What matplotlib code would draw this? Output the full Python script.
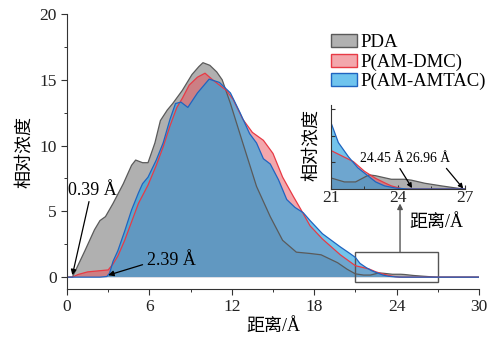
import matplotlib
matplotlib.use('Agg')
import matplotlib.pyplot as plt
from matplotlib.patches import Rectangle, Patch
from matplotlib.ticker import MultipleLocator

plt.rcParams['font.family'] = ['Liberation Serif', 'Noto Sans CJK SC']
plt.rcParams['axes.unicode_minus'] = False

# ---------------- data ----------------
series_names = ['PDA', 'P(AM-DMC)', 'P(AM-AMTAC)']

pda_x = [0, 0.39, 0.8, 1.3, 2.0, 2.4, 2.8, 3.35, 4.1, 4.7, 5.0, 5.5, 5.9, 6.4, 6.8, 7.3, 7.7,
         8.4, 9.1, 9.6, 9.9, 10.4, 10.9, 11.3, 11.9, 12.8, 13.8, 14.8, 15.7, 16.7, 17.7, 18.5,
         19.7, 20.4, 21.0, 21.6, 22.1, 22.7, 23.0, 23.7, 24.3, 24.6, 25.2, 25.95, 26.7, 26.96, 30]
pda_y = [0, 0, 0.9, 2.0, 3.6, 4.3, 4.6, 5.6, 7.1, 8.5, 8.9, 8.7, 8.7, 10.2, 11.9, 12.7, 13.2,
         14.2, 15.4, 16.0, 16.3, 16.1, 15.6, 15.0, 13.2, 10.2, 6.9, 4.6, 2.8, 1.9, 1.8, 1.7,
         1.1, 0.6, 0.25, 0.16, 0.16, 0.32, 0.3, 0.22, 0.22, 0.2, 0.13, 0.07, 0.015, 0, 0]

dmc_x = [0, 0.39, 0.8, 1.5, 2.5, 3.0, 3.35, 3.7, 4.2, 4.7, 5.2, 5.9, 6.5, 7.0, 7.5, 8.0, 8.4,
         8.9, 9.5, 10.05, 10.6, 11.1, 11.6, 12.1, 12.8, 13.5, 14.3, 15.0, 15.7, 16.5, 17.0, 17.7,
         18.6, 19.9, 21.0, 21.6, 22.0, 22.5, 23.0, 23.4, 23.7, 24.0, 24.2, 30]
dmc_y = [0, 0, 0.2, 0.4, 0.5, 0.55, 1.0, 1.6, 2.8, 4.2, 5.6, 7.0, 8.5, 9.9, 11.5, 12.9, 13.6,
         14.6, 15.2, 15.5, 15.0, 14.6, 14.2, 13.5, 12.0, 11.0, 10.4, 9.4, 7.6, 6.1, 5.2, 3.9,
         2.9, 1.7, 0.87, 0.72, 0.62, 0.4, 0.24, 0.14, 0.07, 0.03, 0, 0]

amtac_x = [0, 2.39, 2.9, 3.1, 3.35, 3.7, 4.2, 4.7, 5.2, 5.5, 5.9, 6.5, 7.0, 7.5, 7.9, 8.3,
           8.8, 9.5, 10.35, 11.1, 11.9, 12.6, 13.3, 13.8, 14.3, 14.8, 15.4, 16.0, 16.6, 17.2,
           17.7, 18.6, 19.9, 20.6, 21.0, 21.33, 21.78, 22.2, 22.6, 23.0, 23.4, 23.9, 24.45, 30]
amtac_y = [0, 0, 0.05, 0.3, 1.2, 2.0, 3.5, 5.1, 6.4, 7.1, 7.6, 8.9, 10.2, 12.0, 13.2, 13.3,
           12.9, 14.0, 15.05, 14.8, 14.0, 12.5, 10.9, 10.2, 9.0, 8.6, 7.4, 5.9, 5.3, 4.9,
           4.3, 3.3, 2.3, 1.8, 1.5, 1.05, 0.73, 0.48, 0.32, 0.16, 0.07, 0.02, 0, 0]

xs = [pda_x, dmc_x, amtac_x]
ys = [pda_y, dmc_y, amtac_y]

face_colors = ['#8f8f8f', '#e8505a', '#2aa6e2']
edge_colors = ['#5a5a5a', '#e83a45', '#1f64c0']
face_alpha = [0.7, 0.5, 0.66]

main_xticks = [0, 6, 12, 18, 24, 30]
main_yticks = [0, 5, 10, 15, 20]
inset_xticks = [21, 24, 27]

# ---------------- figure ----------------
fig = plt.figure(figsize=(5.02, 3.37), dpi=100)
W, H = 502, 337
ax = fig.add_axes([67 / W, 1 - 289 / H, 412 / W, 275 / H])


def draw_series(a, lw):
    for x, y, fc, ec, al in zip(xs, ys, face_colors, edge_colors, face_alpha):
        a.fill_between(x, 0, y, facecolor=fc, alpha=al, linewidth=0)
        a.plot(x, y, color=ec, lw=lw)


draw_series(ax, 0.9)
ax.set_xlim(0, 30)
ax.set_ylim(-0.9, 20)
ax.set_xticks(main_xticks)
ax.set_yticks(main_yticks)
ax.xaxis.set_minor_locator(MultipleLocator(3))
ax.yaxis.set_minor_locator(MultipleLocator(2.5))
for s in ['top', 'right']:
    ax.spines[s].set_visible(False)
for s in ['left', 'bottom']:
    ax.spines[s].set_color('#333333')
    ax.spines[s].set_linewidth(0.8)
ax.tick_params(which='both', direction='out', colors='#333333', labelsize=12.5,
               labelcolor='#222222')
ax.tick_params(which='major', length=4, width=0.8)
ax.tick_params(which='minor', length=2.5, width=0.7)
ax.set_xlabel('距离/Å', fontsize=13, labelpad=2)
ax.set_ylabel('相对浓度', fontsize=13, labelpad=4)

# annotations in main axes
ax.annotate('0.39 Å', xy=(0.39, 0.15), xytext=(0.05, 6.6), fontsize=13,
            va='center', ha='left',
            arrowprops=dict(arrowstyle='-|>', color='black', lw=0.9,
                            shrinkA=0, shrinkB=0, mutation_scale=8,
                            relpos=(0.45, 0.0)))
ax.annotate('2.39 Å', xy=(3.0, 0.15), xytext=(5.8, 1.3), fontsize=13,
            va='center', ha='left',
            arrowprops=dict(arrowstyle='-|>', color='black', lw=0.9,
                            shrinkA=1, shrinkB=0, mutation_scale=8,
                            relpos=(0.0, 0.3)))

# zoom rectangle and arrow to inset
ax.add_patch(Rectangle((21, -0.4), 6, 2.3, fill=False, edgecolor='#555555',
                       lw=1.0, clip_on=False))
ax.annotate('', xy=(24.25, 5.6), xytext=(24.25, 1.9),
            arrowprops=dict(arrowstyle='-|>', color='#555555', lw=1.0,
                            shrinkA=0, shrinkB=0, mutation_scale=8))

# legend
handles = [Patch(facecolor=fc, edgecolor=ec, alpha=None, lw=1.0)
           for fc, ec in zip(['#b1b1b1', '#f3a7ac', '#6fc4ee'], edge_colors)]
leg = ax.legend(handles, series_names, loc='upper left',
                bbox_to_anchor=((331 - 67) / 412, (289 - 34) / 275),
                frameon=False, fontsize=13.5, handlelength=1.4, handleheight=0.7,
                handletextpad=0.15, labelspacing=0.12, borderaxespad=0,
                borderpad=0)

# ---------------- inset ----------------
axi = fig.add_axes([331 / W, 1 - 189 / H, 134 / W, 84 / H])
draw_series(axi, 0.9)
axi.set_xlim(21, 27)
axi.set_ylim(0, 1.9)
axi.set_xticks(inset_xticks)
axi.xaxis.set_minor_locator(MultipleLocator(1.5))
axi.set_yticks([0.6, 1.2, 1.8])
axi.set_yticklabels([])
for s in ['top', 'right']:
    axi.spines[s].set_visible(False)
for s in ['left', 'bottom']:
    axi.spines[s].set_color('#333333')
    axi.spines[s].set_linewidth(0.8)
axi.tick_params(which='both', direction='in', colors='#333333', labelsize=12.5,
                labelcolor='#222222', pad=1)
axi.tick_params(which='major', length=3, width=0.8)
axi.tick_params(which='minor', length=2, width=0.7)
axi.set_xlabel('距离/Å', fontsize=13)
axi.xaxis.set_label_coords((436 - 331) / 134, (189 - 222) / 84)
axi.xaxis.label.set_va('center')
fig.text(312 / W, 1 - 145 / H, '相对浓度', rotation=90, fontsize=13,
         ha='center', va='center')

axi.annotate('24.45 Å', xy=(24.63, 0.02), xytext=(22.3, 0.70), fontsize=9.8,
             va='center', ha='left',
             arrowprops=dict(arrowstyle='-|>', color='black', lw=0.9,
                             shrinkA=1, shrinkB=0, mutation_scale=7,
                             relpos=(0.85, 0.0)))
axi.annotate('26.96 Å', xy=(26.92, 0.01), xytext=(24.35, 0.70), fontsize=9.8,
             va='center', ha='left',
             arrowprops=dict(arrowstyle='-|>', color='black', lw=0.9,
                             shrinkA=1, shrinkB=0, mutation_scale=7,
                             relpos=(0.85, 0.0)))

fig.savefig('out.png', dpi=100)
